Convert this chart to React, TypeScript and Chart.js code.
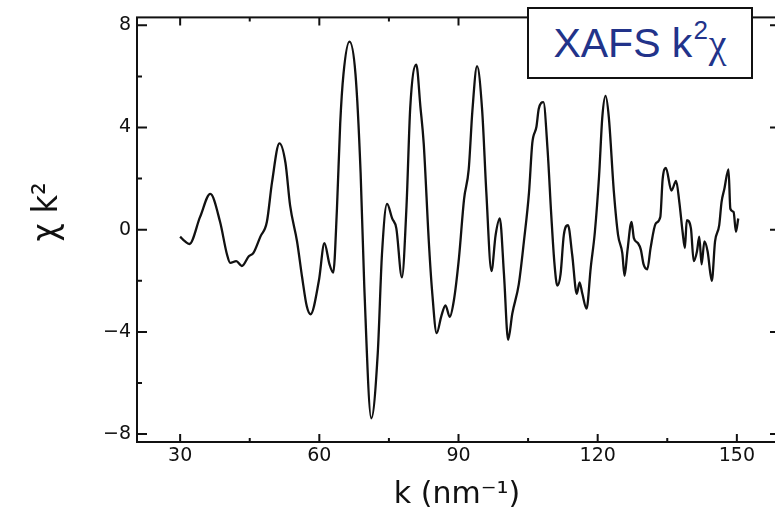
import React, { useEffect, useRef } from 'react';
import { Chart, registerables } from 'chart.js';

Chart.register(...registerables);

const kValues = [
  30.0, 31.0, 32.0, 34.3, 36.5, 38.6, 40.1, 40.8, 42.1, 43.3, 44.8, 45.8, 47.3, 48.7, 49.8, 51.4, 52.7, 53.7, 55.2, 56.3,
  57.3, 58.1, 59.9, 61.1, 62.2, 63.0, 63.8, 64.5, 65.2, 66.5, 67.8, 68.9, 69.7, 71.2, 72.6, 73.5, 74.6, 75.7, 76.6, 77.8,
  78.8, 79.6, 80.9, 81.8, 82.5, 83.6, 84.3, 85.3, 86.3, 87.2, 88.1, 89.0, 90.1, 91.2, 92.2, 93.0, 94.0, 95.1, 96.0, 97.1,
  98.0, 98.9, 99.8, 100.7, 101.6, 103.0, 104.1, 105.2, 105.9, 106.8, 107.3, 108.3, 109.2, 110.0, 110.7, 111.3, 112.0, 112.7, 113.6, 114.5,
  115.5, 116.1, 116.7, 117.6, 118.5, 119.4, 120.3, 121.0, 121.7, 122.4, 123.5, 124.4, 125.3, 125.8, 126.4, 127.3, 127.8, 128.7, 129.3, 129.9,
  130.7, 131.4, 132.5, 133.5, 134.0, 134.7, 135.9, 136.9, 137.6, 138.3, 138.8, 139.2, 140.1, 140.7, 141.4, 141.9, 142.4, 143.0, 143.7, 144.6,
  145.3, 146.2, 146.7, 147.3, 148.2, 148.6, 149.3, 149.8, 150.3,
];

const chiValues = [
  -0.27, -0.45, -0.56, 0.5, 1.4, 0.31, -0.97, -1.3, -1.23, -1.42, -1.04, -0.91, -0.27, 0.31, 1.85, 3.38, 2.62, 0.95, -0.46, -1.87,
  -3.0, -3.31, -2.0, -0.53, -1.36, -1.68, 0.82, 4.15, 6.08, 7.36, 6.08, 2.23, -2.26, -7.38, -4.82, -0.97, 1.01, 0.44, 0.05, -1.87,
  0.95, 4.79, 6.46, 4.79, 3.38, -0.46, -2.38, -4.05, -3.38, -2.96, -3.41, -2.77, -1.1, 1.2, 2.36, 4.67, 6.4, 4.67, 1.46, -1.62,
  -0.21, 0.44, -1.74, -4.31, -3.28, -2.13, -0.46, 1.46, 3.38, 4.03, 4.73, 4.99, 3.13, 0.56, -1.36, -2.19, -1.74, -0.21, 0.18, -0.97,
  -2.51, -2.06, -2.51, -3.09, -1.49, -0.08, 2.1, 4.41, 5.24, 4.41, 1.46, -0.21, -0.91, -1.81, -0.85, 0.31, -0.33, -0.53, -0.78, -1.36,
  -1.55, -0.72, 0.24, 0.5, 1.97, 2.42, 1.53, 1.91, 1.08, -0.08, -0.72, 0.37, 0.05, -1.23, -0.85, -0.27, -1.36, -0.46, -0.85, -2.0,
  -0.46, 0.18, 1.08, 1.59, 2.36, 0.82, 0.69, -0.08, 0.44,
];

const xTickValues = [30, 60, 90, 120, 150];
const xTickLabels = ['30', '60', '90', '120', '150'];
const xMinorTicks = [45, 75, 105, 135];
const yTickValues = [-8, -4, 0, 4, 8];
const yTickLabels = ['−8', '−4', '0', '4', '8'];
const yMinorTicks = [-6, -2, 2, 6];

const xTitle = 'k (nm⁻¹)';
const yTitle = 'χ k²';

const INK = '#111111';

const framePlugin = {
  id: 'frame',
  afterDraw(chart: any) {
    const { ctx, chartArea } = chart;
    const { left, right, top, bottom } = chartArea;
    const xs = chart.scales.x;
    const ys = chart.scales.y;
    ctx.save();
    ctx.strokeStyle = INK;
    ctx.lineWidth = 2;
    ctx.strokeRect(left, top, right - left, bottom - top);
    ctx.beginPath();
    const xMark = (v: number, len: number) => {
      const p = xs.getPixelForValue(v);
      ctx.moveTo(p, bottom);
      ctx.lineTo(p, bottom - len);
      ctx.moveTo(p, top);
      ctx.lineTo(p, top + len);
    };
    const yMark = (v: number, len: number) => {
      const p = ys.getPixelForValue(v);
      ctx.moveTo(left, p);
      ctx.lineTo(left + len, p);
      ctx.moveTo(right, p);
      ctx.lineTo(right - len, p);
    };
    xTickValues.forEach((v) => xMark(v, 8));
    xMinorTicks.forEach((v) => xMark(v, 4));
    yTickValues.forEach((v) => yMark(v, 10));
    yMinorTicks.forEach((v) => yMark(v, 5));
    ctx.stroke();

    ctx.fillStyle = INK;
    ctx.font = '30px "DejaVu Sans"';
    ctx.textAlign = 'center';
    ctx.textBaseline = 'alphabetic';
    ctx.fillText(xTitle, 457, 503);

    ctx.translate(57, 212);
    ctx.rotate(-Math.PI / 2);
    ctx.font = '35px "DejaVu Sans Condensed", "DejaVu Sans"';
    ctx.fillText(yTitle, 0, 0);
    ctx.restore();
  },
};

export default function App() {
  const canvasRef = useRef<HTMLCanvasElement | null>(null);

  useEffect(() => {
    if (!canvasRef.current) return;
    const points = kValues.map((k, i) => ({ x: k, y: chiValues[i] }));
    const chart = new Chart(canvasRef.current, {
      type: 'line',
      data: {
        datasets: [
          {
            data: points,
            borderColor: INK,
            borderWidth: 2.3,
            pointRadius: 0,
            fill: false,
            cubicInterpolationMode: 'monotone',
          },
        ],
      },
      options: {
        animation: false,
        responsive: false,
        devicePixelRatio: 1,
        layout: { padding: { left: 0, top: 12, right: 12, bottom: 0 } },
        plugins: { legend: { display: false }, tooltip: { enabled: false } },
        scales: {
          x: {
            type: 'linear',
            min: 20.7,
            max: 159.3,
            grid: { display: false, drawTicks: false },
            border: { display: false },
            afterBuildTicks: (s: any) => {
              s.ticks = xTickValues.map((v) => ({ value: v }));
            },
            afterFit: (s: any) => {
              s.height = 71;
            },
            ticks: {
              padding: 3,
              color: INK,
              font: { family: '"DejaVu Sans"', size: 19 },
              maxRotation: 0,
              autoSkip: false,
              callback: (v: any) => xTickLabels[xTickValues.indexOf(Number(v))] ?? '',
            },
          },
          y: {
            type: 'linear',
            min: -8.31,
            max: 8.31,
            grid: { display: false, drawTicks: false },
            border: { display: false },
            afterBuildTicks: (s: any) => {
              s.ticks = yTickValues.map((v) => ({ value: v }));
            },
            afterFit: (s: any) => {
              s.width = 137;
            },
            ticks: {
              padding: 6,
              color: INK,
              font: { family: '"DejaVu Sans"', size: 19 },
              autoSkip: false,
              callback: (v: any) => yTickLabels[yTickValues.indexOf(Number(v))] ?? '',
            },
          },
        },
      },
      plugins: [framePlugin],
    });
    return () => chart.destroy();
  }, []);

  return (
    <div
      style={{
        position: 'fixed',
        left: 0,
        top: 0,
        width: 775,
        height: 513,
        overflow: 'hidden',
        background: '#ffffff',
      }}
    >
      <canvas ref={canvasRef} width={792} height={513} style={{ position: 'absolute', left: 0, top: 0 }} />
      <div
        style={{
          position: 'absolute',
          left: 527,
          top: 7,
          width: 226,
          height: 72,
          boxSizing: 'border-box',
          border: '2px solid #111111',
          background: '#ffffff',
          display: 'flex',
          alignItems: 'center',
          justifyContent: 'center',
          fontFamily: 'Arial, "Liberation Sans", sans-serif',
          fontSize: 41,
          color: '#22338a',
          whiteSpace: 'nowrap',
        }}
      >
        <span>XAFS k</span>
        <span style={{ fontSize: 26, position: 'relative', top: -13, marginLeft: 1 }}>2</span>
        <span style={{ marginLeft: 1, position: 'relative', top: 0, fontFamily: '"Liberation Serif", serif', fontSize: 40 }}>χ</span>
      </div>
    </div>
  );
}
